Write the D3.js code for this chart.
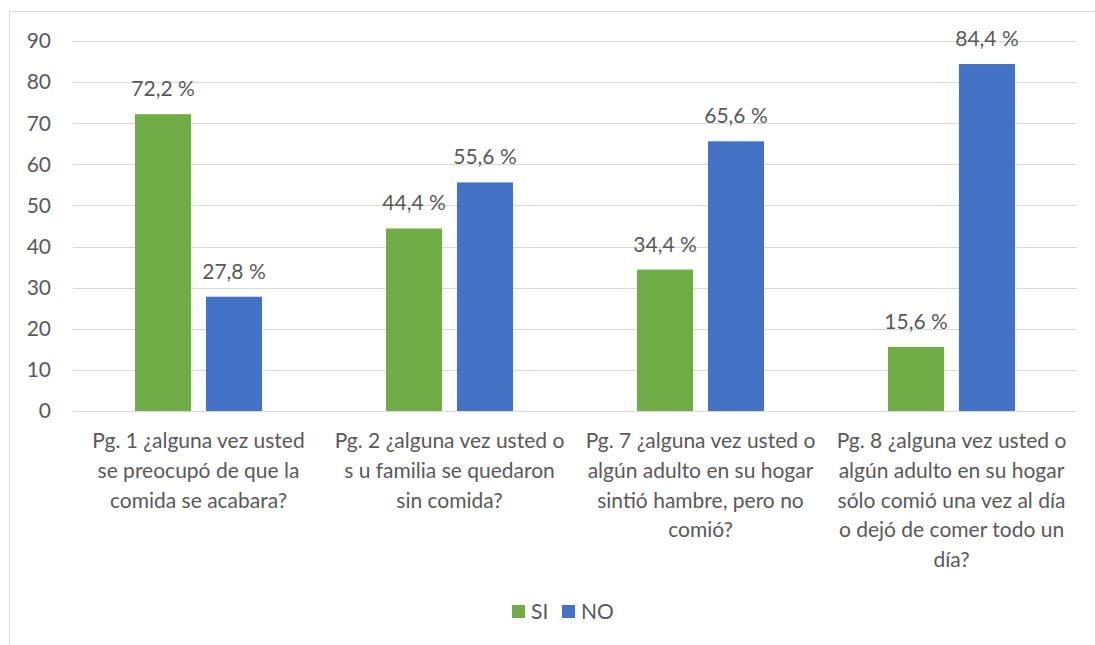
<!DOCTYPE html>
<html>
<head>
<meta charset="utf-8">
<script src="https://d3js.org/d3.v7.min.js"></script>
<style>
  body { margin: 0; background: #fff; }
  text { font-family: Lato, "Open Sans", sans-serif; fill: #595959; }
</style>
</head>
<body>
<div id="chart"></div>
<script>
// data
var categories = ["Pg. 1", "Pg. 2", "Pg. 7", "Pg. 8"];
var catLines = [
  ["Pg. 1 ¿alguna vez usted", "se preocupó de que la", "comida se acabara?"],
  ["Pg. 2 ¿alguna vez usted o", "s u familia se quedaron", "sin comida?"],
  ["Pg. 7 ¿alguna vez usted o", "algún adulto en su hogar", "sintió hambre, pero no", "comió?"],
  ["Pg. 8 ¿alguna vez usted o", "algún adulto en su hogar", "sólo comió una vez al día", "o dejó de comer todo un", "día?"]
];
var series = ["SI", "NO"];
var siValues = [72.2, 44.4, 34.4, 15.6];
var noValues = [27.8, 55.6, 65.6, 84.4];
var yTicks = [0, 10, 20, 30, 40, 50, 60, 70, 80, 90];
var colors = ["#70ad47", "#4472c4"];

var width = 1095, height = 645;
var svg = d3.select("#chart").append("svg")
  .attr("width", width)
  .attr("height", height);

// chart border
svg.append("rect")
  .attr("x", 9.5).attr("y", 11.5)
  .attr("width", 1100).attr("height", 700)
  .attr("fill", "none")
  .attr("stroke", "#d9d9d9")
  .attr("stroke-width", 1);

var plotLeft = 73, plotRight = 1077, plotTop = 41, plotBottom = 411;
var fs = "21px";

var y = d3.scaleLinear().domain([0, 90]).range([plotBottom, plotTop]);
var x0 = d3.scaleBand().domain(categories).range([plotLeft, plotRight]).padding(0);
var x1 = d3.scaleBand().domain(series).range([62, 189]).paddingInner(0.21).paddingOuter(0);

// gridlines
svg.append("g").selectAll("line")
  .data(yTicks)
  .enter().append("line")
  .attr("x1", plotLeft).attr("x2", plotRight)
  .attr("y1", function(d) { return Math.round(y(d)) + 0.5; })
  .attr("y2", function(d) { return Math.round(y(d)) + 0.5; })
  .attr("stroke", "#d9d9d9")
  .attr("stroke-width", 1);

// y axis labels
svg.append("g").selectAll("text")
  .data(yTicks)
  .enter().append("text")
  .attr("x", 51)
  .attr("y", function(d) { return y(d); })
  .attr("dy", "0.35em")
  .attr("text-anchor", "end")
  .style("font-size", fs)
  .text(function(d) { return d; });

var rows = categories.map(function(c, i) {
  return { cat: c, vals: [siValues[i], noValues[i]] };
});

var groups = svg.append("g").selectAll("g")
  .data(rows)
  .enter().append("g")
  .attr("transform", function(d) { return "translate(" + x0(d.cat) + ",0)"; });

groups.selectAll("rect")
  .data(function(d) { return d.vals.map(function(v, j) { return { s: series[j], v: v, j: j }; }); })
  .enter().append("rect")
  .attr("x", function(d) { return x1(d.s); })
  .attr("width", x1.bandwidth())
  .attr("y", function(d) { return y(d.v); })
  .attr("height", function(d) { return y(0) - y(d.v); })
  .attr("fill", function(d) { return colors[d.j]; });

groups.selectAll("text.lbl")
  .data(function(d) { return d.vals.map(function(v, j) { return { s: series[j], v: v }; }); })
  .enter().append("text")
  .attr("class", "lbl")
  .attr("x", function(d) { return x1(d.s) + x1.bandwidth() / 2; })
  .attr("y", function(d) { return y(d.v) - 18; })
  .attr("text-anchor", "middle")
  .style("font-size", fs)
  .text(function(d) { return d3.format(".1f")(d.v).replace(".", ",") + " %"; });

// category labels
svg.append("g").selectAll("text")
  .data(catLines)
  .enter().append("text")
  .attr("text-anchor", "middle")
  .style("font-size", fs)
  .attr("transform", function(d, i) { return "translate(" + (x0(categories[i]) + x0.bandwidth() / 2) + ",448)"; })
  .selectAll("tspan")
  .data(function(d) { return d; })
  .enter().append("tspan")
  .attr("x", 0)
  .attr("y", function(d, k) { return k * 29.8; })
  .text(function(d) { return d; });

// legend
var legend = svg.append("g").attr("transform", "translate(512,605)");
series.forEach(function(s, i) {
  var g = legend.append("g").attr("transform", "translate(" + (i * 50) + ",0)");
  g.append("rect").attr("width", 13).attr("height", 13).attr("fill", colors[i]);
  g.append("text").attr("x", 19).attr("y", 7).attr("dy", "0.35em")
    .style("font-size", fs).text(s);
});
</script>
</body>
</html>
